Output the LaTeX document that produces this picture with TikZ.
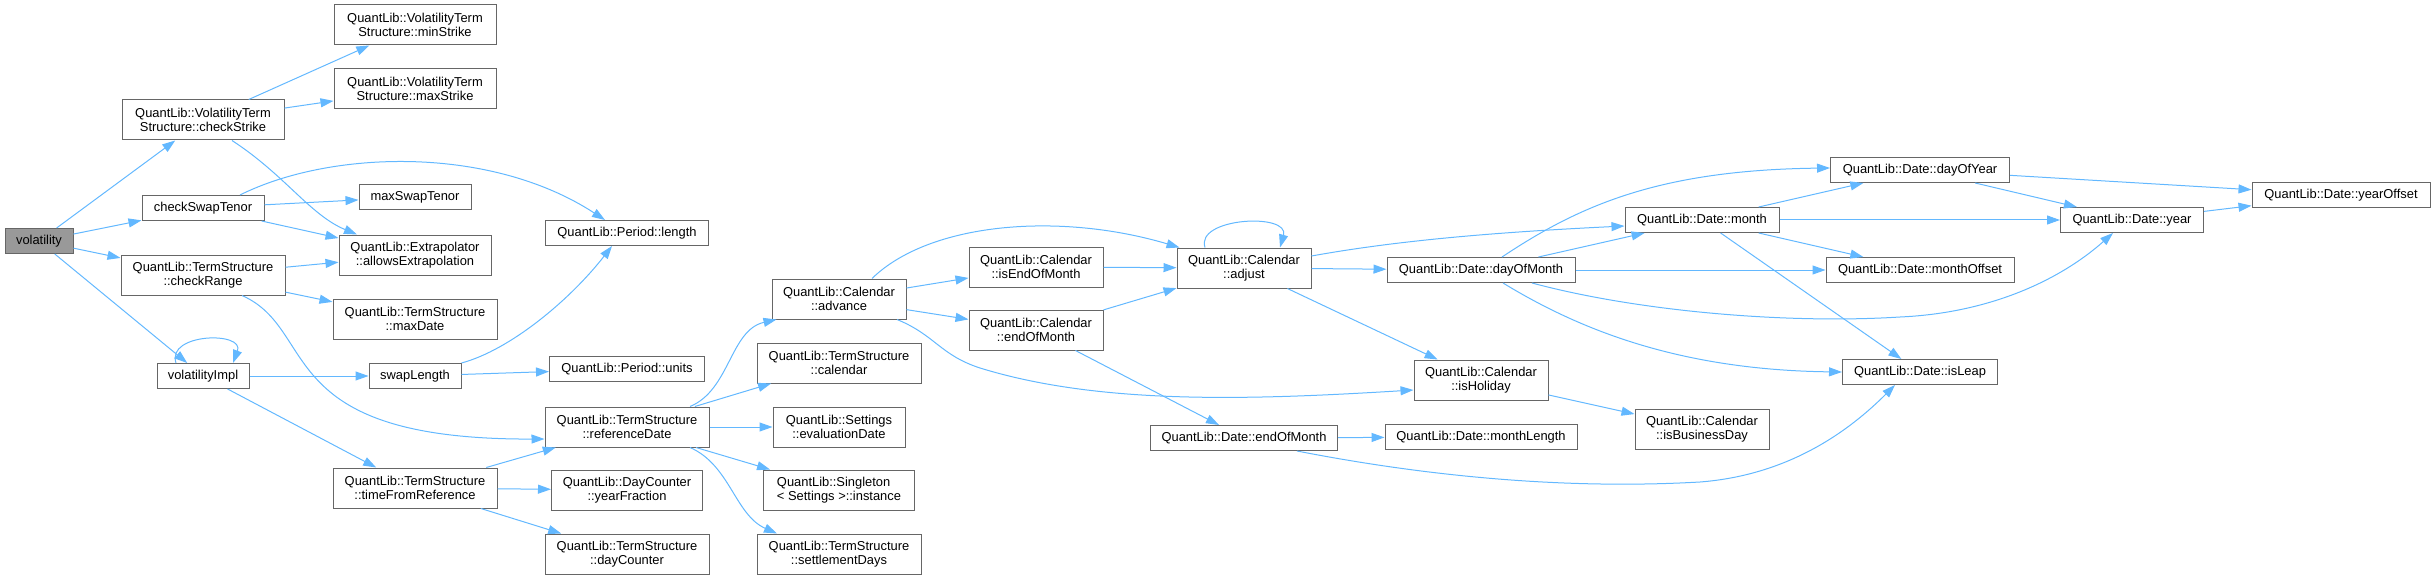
\documentclass[tikz,border=0pt]{standalone}
\usepackage{fontspec}
\setmainfont{Liberation Sans}
\usetikzlibrary{arrows.meta}
\definecolor{nodegray}{HTML}{666666}
\definecolor{rootgray}{HTML}{999999}
\definecolor{callblue}{HTML}{63B8FF}

\begin{document}
\begin{tikzpicture}[
    x=1pt, y=-1pt,
    >={Triangle[length=13pt,width=9pt]},
    every node/.style={font=\fontsize{12.9}{14.3}\selectfont},
    fn/.style={draw=nodegray, fill=white, line width=1pt, align=center, inner sep=0pt, minimum height=25pt, minimum width=#1},
    fntwo/.style={fn=#1, minimum height=40pt},
    root/.style={fn=#1, fill=rootgray},
    call/.style={->, draw=callblue, line width=1pt}
  ]
  \useasboundingbox (0,0) rectangle (2433,580);

    %------------------ Callers side -----------------%
    \node[root=68pt] (vol) at (39,241) {volatility};

    \node[fntwo=162pt] (chkStrike) at (203,120) {QuantLib::VolatilityTerm\\Structure::checkStrike};
    \node[fn=122pt] (chkSwap) at (203,208) {checkSwapTenor};
    \node[fntwo=164pt] (chkRange) at (203,275) {QuantLib::TermStructure\\::checkRange};
    \node[fn=92pt] (volImpl) at (203,376) {volatilityImpl};

    \node[fntwo=162pt] (minStrike) at (415,25) {QuantLib::VolatilityTerm\\Structure::minStrike};
    \node[fntwo=162pt] (maxStrike) at (415,89) {QuantLib::VolatilityTerm\\Structure::maxStrike};
    \node[fn=112pt] (maxSwap) at (415,197) {maxSwapTenor};
    \node[fntwo=152pt] (allowsExtrap) at (415,255) {QuantLib::Extrapolator\\::allowsExtrapolation};
    \node[fntwo=164pt] (maxDate) at (415,319) {QuantLib::TermStructure\\::maxDate};
    \node[fn=92pt] (swapLen) at (415,376) {swapLength};
    \node[fntwo=164pt] (timeFromRef) at (415,488) {QuantLib::TermStructure\\::timeFromReference};

    \node[fn=163pt] (perLength) at (627,233) {QuantLib::Period::length};
    \node[fn=155pt] (perUnits) at (627,369) {QuantLib::Period::units};
    \node[fntwo=164pt] (refDate) at (627,427) {QuantLib::TermStructure\\::referenceDate};
    \node[fntwo=151pt] (yearFrac) at (627,490) {QuantLib::DayCounter\\::yearFraction};
    \node[fntwo=164pt] (dayCounter) at (627,554) {QuantLib::TermStructure\\::dayCounter};

    %------------------ Calendar side -----------------%
    \node[fntwo=134pt] (advance) at (839,299) {QuantLib::Calendar\\::advance};
    \node[fntwo=164pt] (tsCalendar) at (839,363) {QuantLib::TermStructure\\::calendar};
    \node[fntwo=132pt] (evalDate) at (839,427) {QuantLib::Settings\\::evaluationDate};
    \node[fntwo=151pt, align=left] (singleton) at (839,490) {QuantLib::Singleton\\< Settings >::instance};
    \node[fntwo=164pt] (settleDays) at (839,554) {QuantLib::TermStructure\\::settlementDays};

    \node[fntwo=134pt] (isEom) at (1036,267) {QuantLib::Calendar\\::isEndOfMonth};
    \node[fntwo=134pt] (calEom) at (1036,330) {QuantLib::Calendar\\::endOfMonth};
    \node[fntwo=134pt] (adjust) at (1244,268) {QuantLib::Calendar\\::adjust};
    \node[fn=187pt] (dateEom) at (1244,438) {QuantLib::Date::endOfMonth};

    %------------------ Date side -----------------%
    \node[fn=188pt] (dayOfMonth) at (1481,270) {QuantLib::Date::dayOfMonth};
    \node[fntwo=134pt] (isHoliday) at (1481,380) {QuantLib::Calendar\\::isHoliday};
    \node[fn=192pt] (monthLen) at (1481,437) {QuantLib::Date::monthLength};
    \node[fn=154pt] (month) at (1702,220) {QuantLib::Date::month};
    \node[fntwo=134pt] (isBizDay) at (1702,429) {QuantLib::Calendar\\::isBusinessDay};
    \node[fn=179pt] (dayOfYear) at (1920,170) {QuantLib::Date::dayOfYear};
    \node[fn=188pt] (monthOffset) at (1920,270) {QuantLib::Date::monthOffset};
    \node[fn=155pt] (isLeap) at (1920,372) {QuantLib::Date::isLeap};
    \node[fn=143pt] (year) at (2132,220) {QuantLib::Date::year};
    \node[fn=178pt] (yearOffset) at (2341,195) {QuantLib::Date::yearOffset};

    % Calls from volatility
    \draw[call] (vol) -- (chkStrike);
    \draw[call] (vol) -- (chkSwap);
    \draw[call] (vol) -- (chkRange);
    \draw[call] (vol) -- (volImpl);

    % Second level
    \draw[call] (chkStrike) -- (minStrike);
    \draw[call] (chkStrike) -- (maxStrike);
    \draw[call] ([xshift=29pt]chkStrike.south) .. controls (285,175) and (310,215) .. ([xshift=-58pt]allowsExtrap.north);
    \draw[call] ([xshift=37pt]chkSwap.north) .. controls (330,150) and (490,145) .. ([xshift=-22pt]perLength.north);
    \draw[call] (chkSwap) -- (maxSwap);
    \draw[call] (chkSwap) -- (allowsExtrap);
    \draw[call] (chkRange) -- (allowsExtrap);
    \draw[call] (chkRange) -- (maxDate);
    \draw[call] ([xshift=39pt]chkRange.south) .. controls (320,330) and (270,440) .. ([yshift=-12pt]refDate.west);
    \draw[call] ([xshift=-27pt]volImpl.north) .. controls +(-10,-30) and +(12,-32) .. ([xshift=30pt]volImpl.north);
    \draw[call] (volImpl) -- (swapLen);
    \draw[call] (volImpl) -- (timeFromRef);

    % Third level
    \draw[call] (swapLen.north east) .. controls (510,350) and (570,300) .. ([xshift=-15pt]perLength.south);
    \draw[call] (swapLen) -- (perUnits);
    \draw[call] (timeFromRef) -- (refDate);
    \draw[call] (timeFromRef) -- (yearFrac);
    \draw[call] (timeFromRef) -- (dayCounter);

    % referenceDate
    \draw[call] ([xshift=63pt]refDate.north) .. controls (730,390) and (730,330) .. ([xshift=5pt]advance.south west);
    \draw[call] (refDate) -- (tsCalendar);
    \draw[call] (refDate) -- (evalDate);
    \draw[call] (refDate) -- (singleton);
    \draw[call] ([xshift=63pt]refDate.south) .. controls (730,465) and (735,515) .. ([xshift=-62pt]settleDays.north);

    % Calendar::advance
    \draw[call] ([xshift=33pt]advance.north) .. controls (930,222) and (1060,212) .. ([xshift=3pt]adjust.north west);
    \draw[call] (advance) -- (isEom);
    \draw[call] (advance) -- (calEom);
    \draw[call] ([xshift=58pt]advance.south) .. controls (935,335) and (940,355) .. (980,368)
      .. controls (1100,405) and (1250,400) .. ([yshift=-10pt]isHoliday.west);
    \draw[call] (isEom) -- (adjust);
    \draw[call] (calEom) -- (adjust);
    \draw[call] (calEom) -- (dateEom);

    % Calendar::adjust
    \draw[call] ([xshift=-39pt]adjust.north) .. controls +(-10,-30) and +(10,-35) .. ([xshift=36pt]adjust.north);
    \draw[call] ([yshift=12pt]adjust.east) .. controls (1400,240) and (1500,232) .. ([yshift=-6pt]month.west);
    \draw[call] (adjust) -- (dayOfMonth);
    \draw[call] (adjust) -- (isHoliday);
    \draw[call] (dateEom) -- (monthLen);
    \draw[call] ([xshift=53pt]dateEom.south) .. controls (1420,475) and (1560,490) .. (1700,482)
      .. controls (1790,475) and (1850,430) .. ([xshift=-25pt]isLeap.south);

    % Date functions
    \draw[call] ([xshift=21pt]dayOfMonth.north) .. controls (1580,205) and (1660,170) .. ([yshift=2pt]dayOfYear.west);
    \draw[call] (dayOfMonth) -- (month);
    \draw[call] (dayOfMonth) -- (monthOffset);
    \draw[call] ([xshift=51pt]dayOfMonth.south) .. controls (1640,312) and (1790,324) .. (1900,317)
      .. controls (1990,313) and (2060,280) .. ([xshift=-19pt]year.south);
    \draw[call] ([xshift=22pt]dayOfMonth.south) .. controls (1580,330) and (1680,370) .. (isLeap.west);
    \draw[call] (isHoliday) -- (isBizDay);
    \draw[call] (month) -- (dayOfYear);
    \draw[call] (month) -- (year);
    \draw[call] (month) -- (monthOffset);
    \draw[call] (month) -- (isLeap);
    \draw[call] (dayOfYear) -- (yearOffset);
    \draw[call] (dayOfYear) -- (year);
    \draw[call] (year) -- (yearOffset);

  \end{tikzpicture}
\end{document}
